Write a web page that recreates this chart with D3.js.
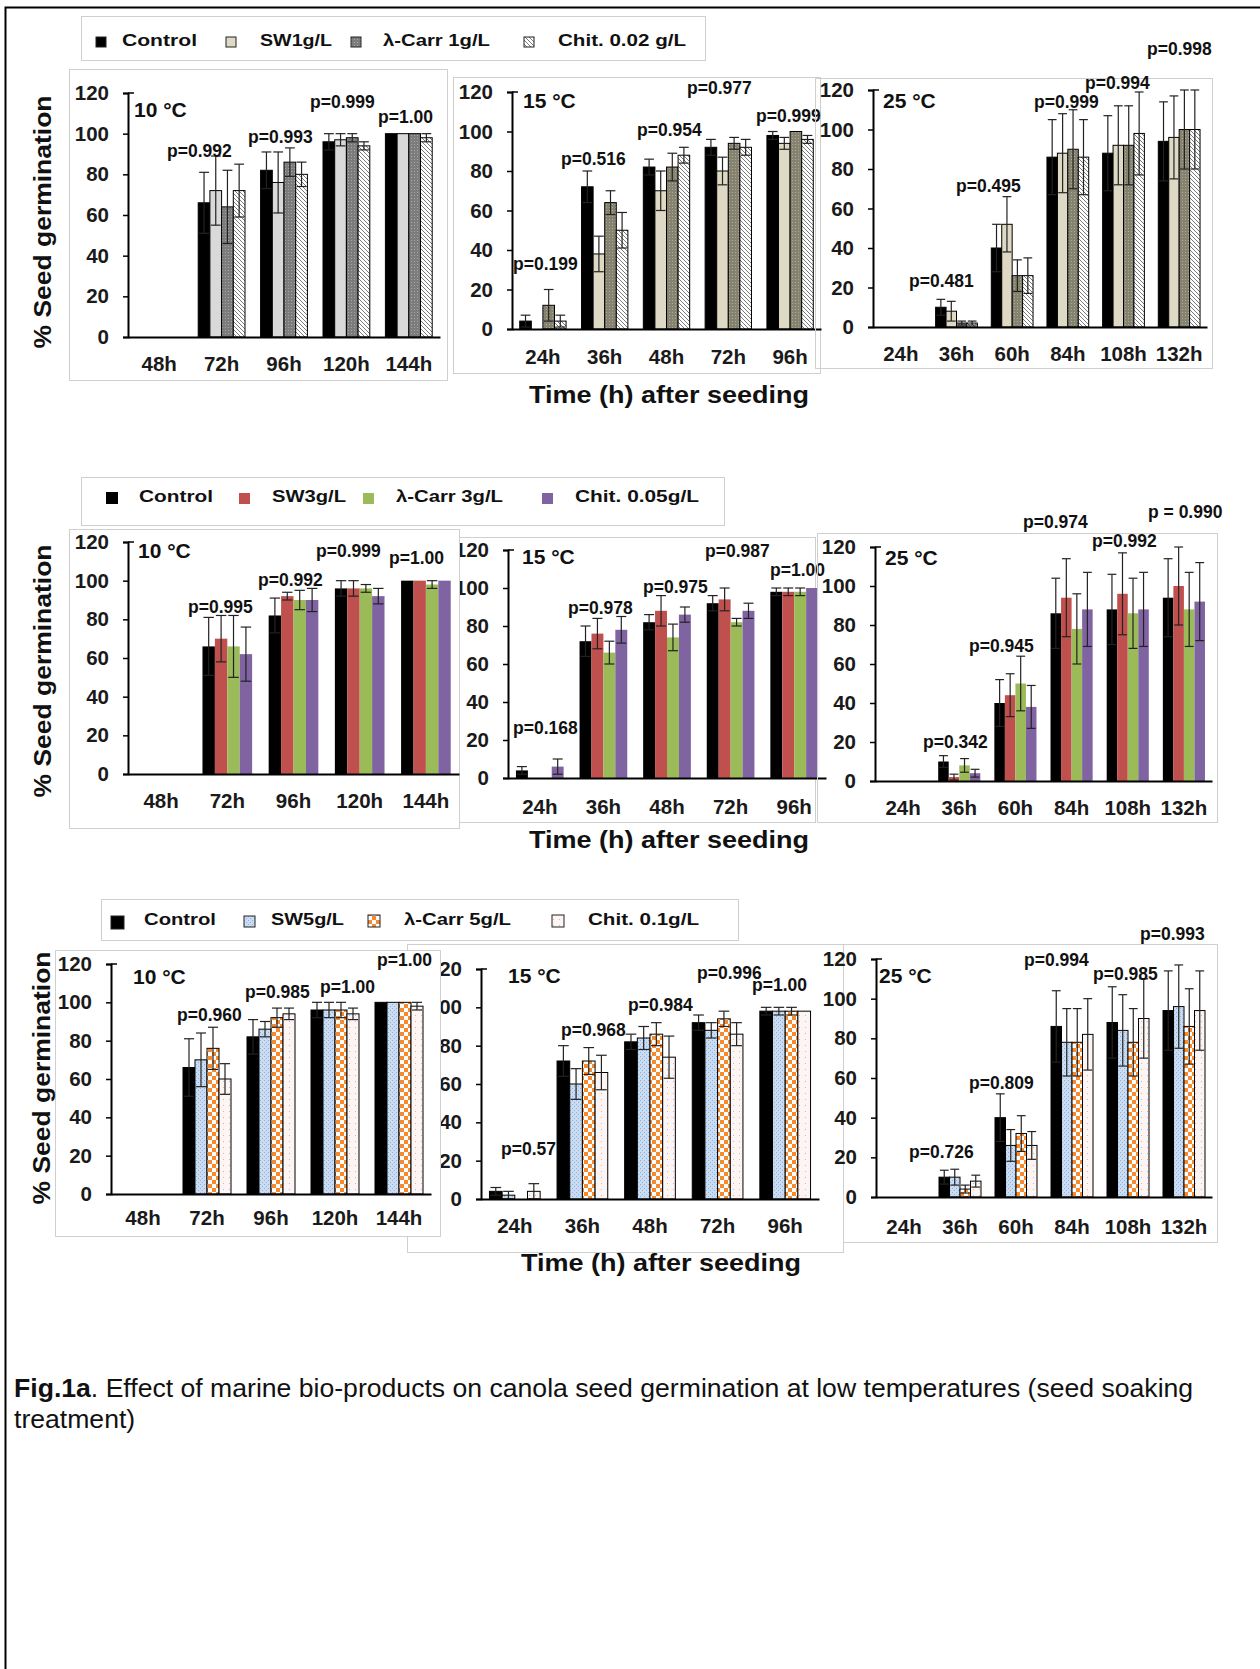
<!DOCTYPE html>
<html>
<head>
<meta charset="utf-8">
<script src="https://cdn.jsdelivr.net/npm/d3@7"></script>
<style>
  html, body { margin: 0; padding: 0; background: #fff; }
  svg { display: block; }
  text { font-family: "Liberation Sans", Arial, sans-serif; }
</style>
</head>
<body>
<script>
// ---------- categories ----------
const hours10 = ["48h", "72h", "96h", "120h", "144h"];
const hours15 = ["24h", "36h", "48h", "72h", "96h"];
const hours25 = ["24h", "36h", "60h", "84h", "108h", "132h"];
const yTicks = [0, 20, 40, 60, 80, 100, 120];

const seriesA = ["Control", "SW1g/L", "λ-Carr 1g/L", "Chit. 0.02 g/L"];
const seriesB = ["Control", "SW3g/L", "λ-Carr 3g/L", "Chit. 0.05g/L"];
const seriesC = ["Control", "SW5g/L", "λ-Carr 5g/L", "Chit. 0.1g/L"];

// ---------- % germination (rows = treatments, columns = time points) ----------
const a10 = [[0, 66, 82, 96, 100], [0, 72, 76, 97, 100], [0, 64, 86, 98, 100], [0, 72, 80, 94, 98]];
const a10Err = [[0, 15, 9, 4, 0], [0, 17, 15, 3, 0], [0, 18, 7, 2, 0], [0, 13, 6, 2, 2]];
const a10P = [null, "p=0.992", "p=0.993", "p=0.999", "p=1.00"];

const a15 = [[4, 72, 82, 92, 98], [0, 38, 70, 80, 94], [12, 64, 82, 94, 100], [4, 50, 88, 92, 96]];
const a15Err = [[3, 8, 4, 4, 2], [0, 9, 10, 7, 3], [8, 6, 7, 3, 0], [3, 9, 4, 4, 2]];
const a15P = ["p=0.199", "p=0.516", "p=0.954", "p=0.977", "p=0.999"];

const a25 = [[0, 10, 40, 86, 88, 94], [0, 8, 52, 88, 92, 96], [0, 2, 26, 90, 92, 100], [0, 2, 26, 86, 98, 100]];
const a25Err = [[0, 4, 12, 19, 19, 20], [0, 5, 14, 20, 20, 21], [0, 1, 8, 20, 20, 20], [0, 1, 9, 19, 21, 20]];
const a25P = [null, "p=0.481", "p=0.495", "p=0.999", "p=0.994", "p=0.998"];

const b10 = [[0, 66, 82, 96, 100], [0, 70, 92, 96, 100], [0, 66, 90, 96, 98], [0, 62, 90, 92, 100]];
const b10Err = [[0, 15, 9, 4, 0], [0, 12, 2, 4, 0], [0, 16, 5, 2, 2], [0, 14, 6, 4, 0]];
const b10P = [null, "p=0.995", "p=0.992", "p=0.999", "p=1.00"];

const b15 = [[4, 72, 82, 92, 98], [0, 76, 88, 94, 98], [0, 66, 74, 82, 98], [6, 78, 86, 88, 100]];
const b15Err = [[2, 8, 4, 4, 2], [0, 8, 8, 6, 2], [0, 6, 7, 2, 2], [4, 7, 4, 4, 0]];
const b15P = ["p=0.168", "p=0.978", "p=0.975", "p=0.987", "p=1.00"];

const b25 = [[0, 10, 40, 86, 88, 94], [0, 2, 44, 94, 96, 100], [0, 8, 50, 78, 86, 88], [0, 4, 38, 88, 88, 92]];
const b25Err = [[0, 3, 12, 18, 18, 20], [0, 1.5, 11, 20, 21, 20], [0, 3.5, 14, 18, 18, 19], [0, 2, 11, 19, 19, 20]];
const b25P = [null, "p=0.342", "p=0.945", "p=0.974", "p=0.992", "p = 0.990"];

const c10 = [[0, 66, 82, 96, 100], [0, 70, 86, 96, 100], [0, 76, 92, 96, 100], [0, 60, 94, 94, 98]];
const c10Err = [[0, 15, 9, 4, 0], [0, 14, 4, 4, 0], [0, 11, 5, 4, 0], [0, 8, 3, 3, 2]];
const c10P = [null, "p=0.960", "p=0.985", "p=1.00", "p=1.00"];

const c15 = [[4, 72, 82, 92, 98], [2, 60, 84, 88, 98], [0, 72, 86, 94, 98], [4, 66, 74, 86, 98]];
const c15Err = [[2, 8, 4, 4, 2], [2, 8, 6, 4, 2], [0, 7, 6, 4, 2], [4, 9, 11, 6, 0]];
const c15P = ["p=0.57", "p=0.968", "p=0.984", "p=0.996", "p=1.00"];

const c25 = [[0, 10, 40, 86, 88, 94], [0, 10, 26, 78, 84, 96], [0, 4, 32, 78, 78, 86], [0, 8, 26, 82, 90, 94]];
const c25Err = [[0, 3.5, 12, 18, 18, 20], [0, 4, 8, 17, 18, 21], [0, 2, 9, 17, 17, 19], [0, 3, 7, 18, 20, 20]];
const c25P = [null, "p=0.726", "p=0.809", "p=0.994", "p=0.985", "p=0.993"];

// ---------- drawing ----------
const W = 1260, H = 1669;
const svg = d3.select("body").append("svg").attr("width", W).attr("height", H);
svg.append("rect").attr("width", W).attr("height", H).attr("fill", "#fff");
const defs = svg.append("defs");

function pattern(id, size, bg, draw) {
  const p = defs.append("pattern").attr("id", id)
    .attr("patternUnits", "userSpaceOnUse").attr("width", size).attr("height", size);
  p.append("rect").attr("width", size).attr("height", size).attr("fill", bg);
  draw(p);
}
pattern("carrGrey", 3, "#7c7c7c", p => {
  p.append("rect").attr("x", 0).attr("y", 0).attr("width", 1).attr("height", 1).attr("fill", "#a8a8a8");
});
pattern("carrOlive", 3, "#858270", p => {
  p.append("rect").attr("x", 0).attr("y", 0).attr("width", 1).attr("height", 1).attr("fill", "#aeab98");
});
pattern("chitHatch", 4, "#fff", p => {
  p.append("path").attr("d", "M0,0L4,4M-1,3L1,5M3,-1L5,1").attr("stroke", "#7a7a7a").attr("stroke-width", 1);
});
pattern("sw5Blue", 4, "#c9dcf2", p => {
  p.append("rect").attr("x", 0).attr("y", 0).attr("width", 1).attr("height", 1).attr("fill", "#8fb0dc");
  p.append("rect").attr("x", 2).attr("y", 2).attr("width", 1).attr("height", 1).attr("fill", "#8fb0dc");
});
pattern("carrCheck", 8, "#fff", p => {
  p.append("rect").attr("x", 0).attr("y", 0).attr("width", 4).attr("height", 4).attr("fill", "#f58b2e");
  p.append("rect").attr("x", 4).attr("y", 4).attr("width", 4).attr("height", 4).attr("fill", "#f58b2e");
});
pattern("chitDots", 6, "#fdf4f4", p => {
  p.append("rect").attr("x", 1).attr("y", 1).attr("width", 1).attr("height", 1).attr("fill", "#c9b9b9");
});

const fillsA1 = ["#000", "#d9d9d9", "url(#carrGrey)", "url(#chitHatch)"];
const fillsA2 = ["#000", "#ddd9c4", "url(#carrOlive)", "url(#chitHatch)"];
const fillsB = ["#000", "#c0504d", "#9bbb59", "#8064a2"];
const fillsC = ["#000", "url(#sw5Blue)", "url(#carrCheck)", "url(#chitDots)"];

// outer frame
svg.append("path").attr("d", "M1262,7.5H5.5V1672").attr("fill", "none").attr("stroke", "#000").attr("stroke-width", 2);

const panels = [
  // row 1
  { vals: a10, errs: a10Err, ps: a10P, hours: hours10, series: seriesA, fills: fillsA1, title: "10 °C", outline: true,
    xr: [128, 440], yr: [337, 93], tickY: 371, titleXY: [134, 117], box: [69, 69, 447, 380], boxFill: "#fff",
    pXY: [null, [167, 157], [248, 143], [310, 108], [378, 123]] },
  { vals: a15, errs: a15Err, ps: a15P, hours: hours15, series: seriesA, fills: fillsA2, title: "15 °C", outline: true,
    xr: [512, 821], yr: [329, 92], tickY: 364, titleXY: [523, 108], box: [453, 77, 820, 373],
    pXY: [[513, 270], [561, 165], [637, 136], [687, 94], [756, 122]] },
  { vals: a25, errs: a25Err, ps: a25P, hours: hours25, series: seriesA, fills: fillsA2, title: "25 °C", outline: true,
    xr: [873, 1207], yr: [327, 90], tickY: 361, titleXY: [883, 108], box: [815, 78, 1212, 368],
    pXY: [null, [909, 287], [956, 192], [1034, 108], [1085, 89], [1147, 55]] },
  // row 2
  { vals: b10, errs: b10Err, ps: b10P, hours: hours10, series: seriesB, fills: fillsB, title: "10 °C", outline: false,
    xr: [128, 459], yr: [774, 542], tickY: 808, titleXY: [138, 558], box: [69, 529, 459, 828], boxFill: "#fff",
    pXY: [null, [188, 613], [258, 586], [316, 557], [389, 564]] },
  { vals: b15, errs: b15Err, ps: b15P, hours: hours15, series: seriesB, fills: fillsB, title: "15 °C", outline: false,
    xr: [508, 826], yr: [778, 550], tickY: 814, titleXY: [522, 564], box: [457, 537, 815, 822],
    pXY: [[513, 734], [568, 614], [643, 593], [705, 557], [770, 576]] },
  { vals: b25, errs: b25Err, ps: b25P, hours: hours25, series: seriesB, fills: fillsB, title: "25 °C", outline: false,
    xr: [875, 1212], yr: [781, 547], tickY: 815, titleXY: [885, 565], box: [817, 533, 1217, 822],
    pXY: [null, [923, 748], [969, 652], [1023, 528], [1092, 547], [1148, 518]] },
  // row 3
  { vals: c10, errs: c10Err, ps: c10P, hours: hours10, series: seriesC, fills: fillsC, title: "10 °C", outline: true,
    xr: [111, 431], yr: [1194, 964], tickY: 1225, titleXY: [133, 984], box: [55, 950, 440, 1236], boxFill: "#fff",
    pXY: [null, [177, 1021], [245, 998], [320, 993], [377, 966]] },
  { vals: c15, errs: c15Err, ps: c15P, hours: hours15, series: seriesC, fills: fillsC, title: "15 °C", outline: true,
    xr: [481, 819], yr: [1199, 969], tickY: 1233, titleXY: [508, 983], box: [407, 944, 843, 1252],
    pXY: [[501, 1155], [561, 1036], [628, 1011], [697, 979], [752, 991]] },
  { vals: c25, errs: c25Err, ps: c25P, hours: hours25, series: seriesC, fills: fillsC, title: "25 °C", outline: true,
    xr: [876, 1212], yr: [1197, 959], tickY: 1234, titleXY: [879, 983], box: [843, 944, 1217, 1242],
    pXY: [null, [909, 1158], [969, 1089], [1024, 966], [1093, 980], [1140, 940]] }
];

function drawPanel(P) {
  const g = svg.append("g");
  const [bx0, by0, bx1, by1] = P.box;
  g.append("rect").attr("x", bx0 + 0.5).attr("y", by0 + 0.5).attr("width", bx1 - bx0).attr("height", by1 - by0)
    .attr("fill", P.boxFill || "none").attr("stroke", "#cfcfcf").attr("stroke-width", 1);

  const x = d3.scaleBand().domain(P.hours).range(P.xr).paddingInner(0.25).paddingOuter(0.125);
  const xs = d3.scaleBand().domain(d3.range(P.series.length)).range([0, x.bandwidth()]);
  const y = d3.scaleLinear().domain([0, 120]).range(P.yr);

  // bars
  P.vals.forEach((row, si) => {
    row.forEach((v, hi) => {
      if (v <= 0) return;
      g.append("rect")
        .attr("x", x(P.hours[hi]) + xs(si)).attr("y", y(v))
        .attr("width", xs.bandwidth()).attr("height", y(0) - y(v))
        .attr("fill", P.fills[si])
        .attr("stroke", P.outline ? "#000" : "none").attr("stroke-width", 1);
    });
  });

  // error bars
  const cap = xs.bandwidth() * 0.42;
  P.errs.forEach((row, si) => {
    row.forEach((e, hi) => {
      const v = P.vals[si][hi];
      if (e <= 0 || v <= 0) return;
      const cx = x(P.hours[hi]) + xs(si) + xs.bandwidth() / 2;
      const yt = y(v + e), yb = y(Math.max(0, v - e));
      const col = "#222";
      g.append("line").attr("x1", cx).attr("x2", cx).attr("y1", yt).attr("y2", yb).attr("stroke", col).attr("stroke-width", 1.2);
      g.append("line").attr("x1", cx - cap).attr("x2", cx + cap).attr("y1", yt).attr("y2", yt).attr("stroke", col).attr("stroke-width", 1.2);
      g.append("line").attr("x1", cx - cap).attr("x2", cx + cap).attr("y1", yb).attr("y2", yb).attr("stroke", col).attr("stroke-width", 1.2);
    });
  });

  // y axis
  const yAxis = d3.axisLeft(y).tickValues(yTicks).tickSize(5).tickPadding(14).tickFormat(d3.format("d"));
  const ya = g.append("g").attr("transform", `translate(${P.xr[0]},0)`).call(yAxis);
  ya.select(".domain").attr("stroke", "#000").attr("stroke-width", 2);
  ya.selectAll(".tick line").attr("stroke", "#000").attr("stroke-width", 1.5);
  ya.selectAll(".tick text").attr("font-size", 20.5).attr("font-weight", "bold").attr("fill", "#1a1a1a")
    .attr("font-family", "'Liberation Sans', Arial, sans-serif");
  g.append("line").attr("x1", P.xr[0]).attr("x2", P.xr[0] + 6).attr("y1", y(120)).attr("y2", y(120))
    .attr("stroke", "#000").attr("stroke-width", 1.5);

  // x axis
  const xAxis = d3.axisBottom(x).tickSize(0).tickPadding(0);
  const xa = g.append("g").attr("transform", `translate(0,${y(0)})`).call(xAxis);
  xa.select(".domain").attr("stroke", "#000").attr("stroke-width", 2);
  xa.selectAll(".tick text").attr("font-size", 20.5).attr("font-weight", "bold").attr("fill", "#1a1a1a")
    .attr("font-family", "'Liberation Sans', Arial, sans-serif")
    .attr("y", P.tickY - y(0)).attr("dy", 0);

  // temperature label
  g.append("text").attr("x", P.titleXY[0]).attr("y", P.titleXY[1]).attr("font-size", 21).attr("font-weight", "bold")
    .attr("fill", "#111").text(P.title);

  // p-values
  P.ps.forEach((t, i) => {
    if (!t) return;
    const pos = P.pXY[i];
    g.append("text").attr("x", pos[0]).attr("y", pos[1]).attr("font-size", 17.5).attr("font-weight", "bold")
      .attr("fill", "#111").text(t);
  });
}

// draw panels 2, 3 then 1 of each row (panel 1 sits on top)
[1, 2, 0, 4, 5, 3, 7, 8, 6].forEach(i => drawPanel(panels[i]));

// legends
const legends = [
  { series: seriesA, fills: ["#000", "#ddd9c4", "url(#carrGrey)", "url(#chitHatch)"], box: [81, 16, 705, 60],
    mk: [[96, 37, 10], [226, 37, 10], [351, 37, 10], [524, 37, 10]], markerStroke: true,
    tx: [[122, 75], [260, 72], [383, 107], [558, 128]], base: 46 },
  { series: seriesB, fills: fillsB, box: [81, 477, 724, 525],
    mk: [[106, 492, 12], [239, 493, 11], [363, 493, 11], [542, 493, 11]], markerStroke: false,
    tx: [[139, 74], [272, 74], [396, 107], [575, 124]], base: 502 },
  { series: seriesC, fills: fillsC, box: [101, 899, 738, 940],
    mk: [[111, 916, 13], [244, 916, 11], [368, 915, 12], [552, 915, 12]], markerStroke: true,
    tx: [[144, 72], [271, 73], [404, 107], [588, 111]], base: 925 }
];
legends.forEach(L => {
  const g = svg.append("g");
  const [x0, y0, x1, y1] = L.box;
  g.append("rect").attr("x", x0 + 0.5).attr("y", y0 + 0.5).attr("width", x1 - x0).attr("height", y1 - y0)
    .attr("fill", "#fff").attr("stroke", "#cfcfcf");
  L.series.forEach((s, i) => {
    const [mx, my, ms] = L.mk[i];
    g.append("rect").attr("x", mx).attr("y", my).attr("width", ms).attr("height", ms)
      .attr("fill", L.fills[i]).attr("stroke", L.markerStroke ? "#222" : "none").attr("stroke-width", 1);
    g.append("text").attr("x", L.tx[i][0]).attr("y", L.base).attr("font-size", 17).attr("font-weight", "bold")
      .attr("fill", "#111").attr("textLength", L.tx[i][1]).attr("lengthAdjust", "spacingAndGlyphs").text(s);
  });
});

// shared axis titles
[[51, 222], [51, 671], [50, 1078]].forEach(([tx, ty]) => {
  svg.append("text").attr("transform", `translate(${tx},${ty}) rotate(-90)`).attr("text-anchor", "middle")
    .attr("font-size", 24).attr("font-weight", "bold").attr("fill", "#111")
    .attr("textLength", 253).attr("lengthAdjust", "spacingAndGlyphs").text("% Seed germination");
});
[[669, 403], [669, 848], [661, 1271]].forEach(([tx, ty]) => {
  svg.append("text").attr("x", tx).attr("y", ty).attr("text-anchor", "middle")
    .attr("font-size", 24).attr("font-weight", "bold").attr("fill", "#111")
    .attr("textLength", 280).attr("lengthAdjust", "spacingAndGlyphs").text("Time (h) after seeding");
});

// caption
const cap = svg.append("text").attr("x", 14).attr("y", 1397).attr("font-size", 26.6).attr("fill", "#111");
cap.append("tspan").attr("font-weight", "bold").text("Fig.1a");
cap.append("tspan").text(". Effect of marine bio-products on canola seed germination at low temperatures (seed soaking");
svg.append("text").attr("x", 14).attr("y", 1428).attr("font-size", 26.6).attr("fill", "#111").text("treatment)");
</script>
</body>
</html>
